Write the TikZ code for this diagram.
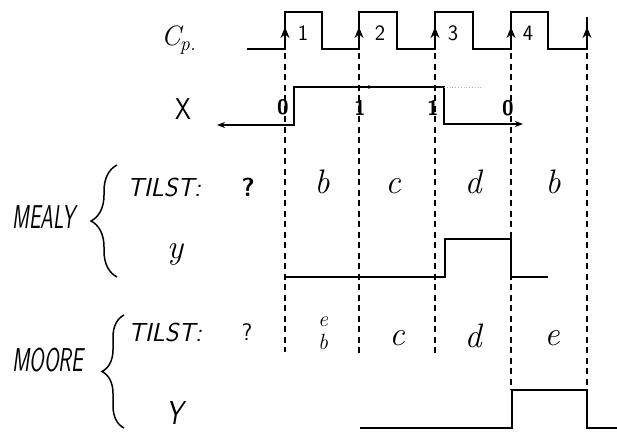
\documentclass[tikz,border=0pt]{standalone}
\usepackage{fontspec}
\usetikzlibrary{arrows.meta,decorations.pathreplacing}
\begin{document}
\begin{tikzpicture}[x=1pt,y=-1pt,
  sig/.style={line width=1.6pt, line join=miter},
  guide/.style={line width=1.3pt, dash pattern=on 6pt off 4.5pt},
  uptip/.style={-{Stealth[length=11pt,width=9pt]}, line width=1.6pt},
  hand/.style={font=\sffamily\itshape\fontsize{26}{26}\selectfont, inner sep=0pt},
  big/.style={font=\sffamily\itshape\fontsize{33}{33}\selectfont, inner sep=0pt},
  st/.style={font=\itshape\fontsize{34}{34}\selectfont, inner sep=0pt},
  sts/.style={font=\itshape\fontsize{22}{22}\selectfont, inner sep=0pt},
  num/.style={font=\sffamily\fontsize{22}{22}\selectfont, inner sep=0pt},
  xnum/.style={font=\sffamily\bfseries\fontsize{21}{21}\selectfont, inner sep=0pt},
  bracestyle/.style={line width=1.5pt, decorate}]
\useasboundingbox (0,0) rectangle (617,434);

% clock
\draw[sig] (247,49) -- (285,49) -- (285,12) -- (322,12) -- (322,49) -- (359,49) -- (359,12)
  -- (397,12) -- (397,49) -- (435,49) -- (435,12) -- (473,12) -- (473,49) -- (511,49)
  -- (511,12) -- (548,12) -- (548,49) -- (587,49) -- (587,17);
\foreach \x in {285,359,435,511,587} \draw[uptip] (\x,49) -- (\x,27);
\node[num] (n1) at (303,33) {1};
\node[num] (n2) at (380,33) {2};
\node[num] (n3) at (453,33) {3};
\node[num] (n4) at (528,33) {4};
\node[font=\itshape\fontsize{28}{28}\selectfont, inner sep=0pt, anchor=west] (cp) at (161,40)
  {C\kern-1pt\raisebox{-5pt}{\fontsize{20}{20}\selectfont p.}};

% guides
\draw[guide] (285,53) -- (285,352);
\draw[guide] (359,53) -- (359,356);
\draw[guide] (435,53) -- (435,356);
\draw[guide] (511,53) -- (511,390);
\draw[guide] (587,53) -- (587,390);

% X
\node[font=\sffamily\fontsize{30}{30}\selectfont, inner sep=0pt] (xl) at (183,109) {\scalebox{0.85}[1]{X}};
\draw[sig, {Stealth[length=8pt,width=6pt]}-{Stealth[length=8pt,width=6pt]}]
  (217,125) -- (294,125) -- (294,87) -- (444,87) -- (444,124) -- (523,124);
\draw[gray!60, line width=0.8pt, dotted] (444,87) -- (483,87);
\fill (369,87) circle (1.8pt);
\node[xnum] (x0) at (283,107) {0};
\node[xnum] (x1) at (360,108) {1};
\node[xnum] (x2) at (433,108) {1};
\node[xnum] (x3) at (508,108) {0};

% MEALY
\node[big] (mealy) at (44,217) {\scalebox{0.62}[1]{MEALY}};
\draw[bracestyle, decoration={brace, amplitude=26pt}] (117,277) -- (117,165);
\node[hand] (t1) at (164,187) {TILST:};
\node[font=\sffamily\bfseries\fontsize{26}{26}\selectfont, inner sep=0pt] (q1) at (248,187) {?};
\node[st] (s1) at (322,182) {b};
\node[st] (s2) at (393,186) {c};
\node[st] (s3) at (473,182) {d};
\node[st] (s4) at (553,182) {b};
\node[font=\itshape\fontsize{34}{34}\selectfont, inner sep=0pt] (y1) at (175,254) {y};
\draw[sig] (285,277) -- (445,277) -- (445,239) -- (511,239) -- (511,277) -- (548,277);

% MOORE
\node[big] (moore) at (48,360) {\scalebox{0.64}[1]{MOORE}};
\draw[bracestyle, decoration={brace, amplitude=22pt}] (124,428) -- (124,315);
\node[hand] (t2) at (165,332) {TILST:};
\node[font=\sffamily\fontsize{24}{24}\selectfont, inner sep=0pt] (q2) at (247,332) {?};
\node[sts] (s5) at (323,322) {e};
\node[sts] (s6) at (323,342) {b};
\node[st] (s7) at (397,338) {c};
\node[st] (s8) at (473,336) {d};
\node[st] (s9) at (552,338) {e};
\node[big] (y2) at (175,413) {\scalebox{0.8}[1]{Y}};
\draw[sig] (360,428) -- (512,428) -- (512,390) -- (587,390) -- (587,428) -- (617,428);
\end{tikzpicture}
\end{document}
